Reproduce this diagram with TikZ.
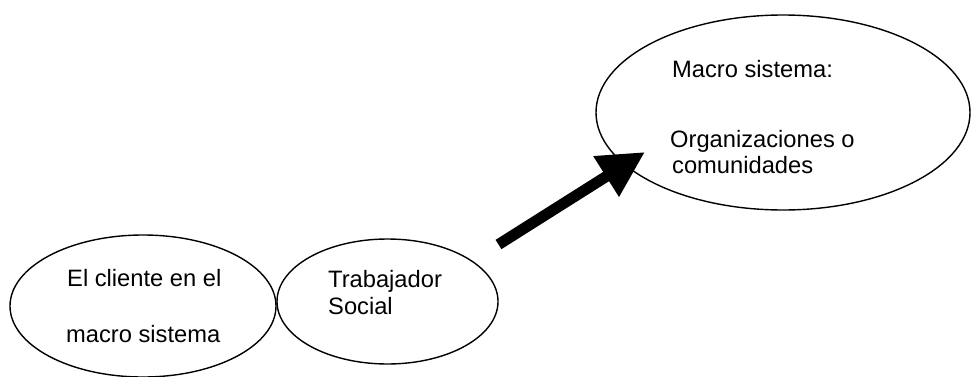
\documentclass[tikz,border=0pt]{standalone}
\usepackage{fontspec}
\setmainfont{Liberation Sans}
\usetikzlibrary{shapes.geometric,arrows.meta}
\begin{document}
\begin{tikzpicture}[x=1pt,y=1pt,
  oval/.style={draw=black,line width=1.4pt,ellipse,inner sep=0pt},
  label/.style={anchor=base west,inner sep=0pt,font=\fontsize{23.7}{28}\selectfont},
  bigarrow/.style={line width=11pt,-{Triangle[length=46pt,width=45pt]}}]
  \useasboundingbox (0,0) rectangle (973,376);

  % ellipses
  \node[oval,minimum width=374pt,minimum height=195pt] (macro) at (783,263.5) {};
  \node[oval,minimum width=266pt,minimum height=142pt] (cliente) at (143,70) {};
  \node[oval,minimum width=221pt,minimum height=125pt] (trabajador) at (387.5,74.5) {};

  % texts
  \node[label] (m1) at (672,299) {Macro sistema:};
  \node[label] (m2) at (670,229) {Organizaciones o};
  \node[label] (m3) at (672,203) {comunidades};
  \node[label] (c1) at (67,90) {El cliente en el};
  \node[label] (c2) at (66,34) {macro sistema};
  \node[label] (t1) at (328,89) {Trabajador};
  \node[label] (t2) at (328,62) {Social};

  % thick arrow towards the macro system
  \coordinate (tail) at (498.5,131.5);
  \coordinate (tip) at (645,224);
  \draw[bigarrow] (tail) -- (tip);
\end{tikzpicture}
\end{document}
